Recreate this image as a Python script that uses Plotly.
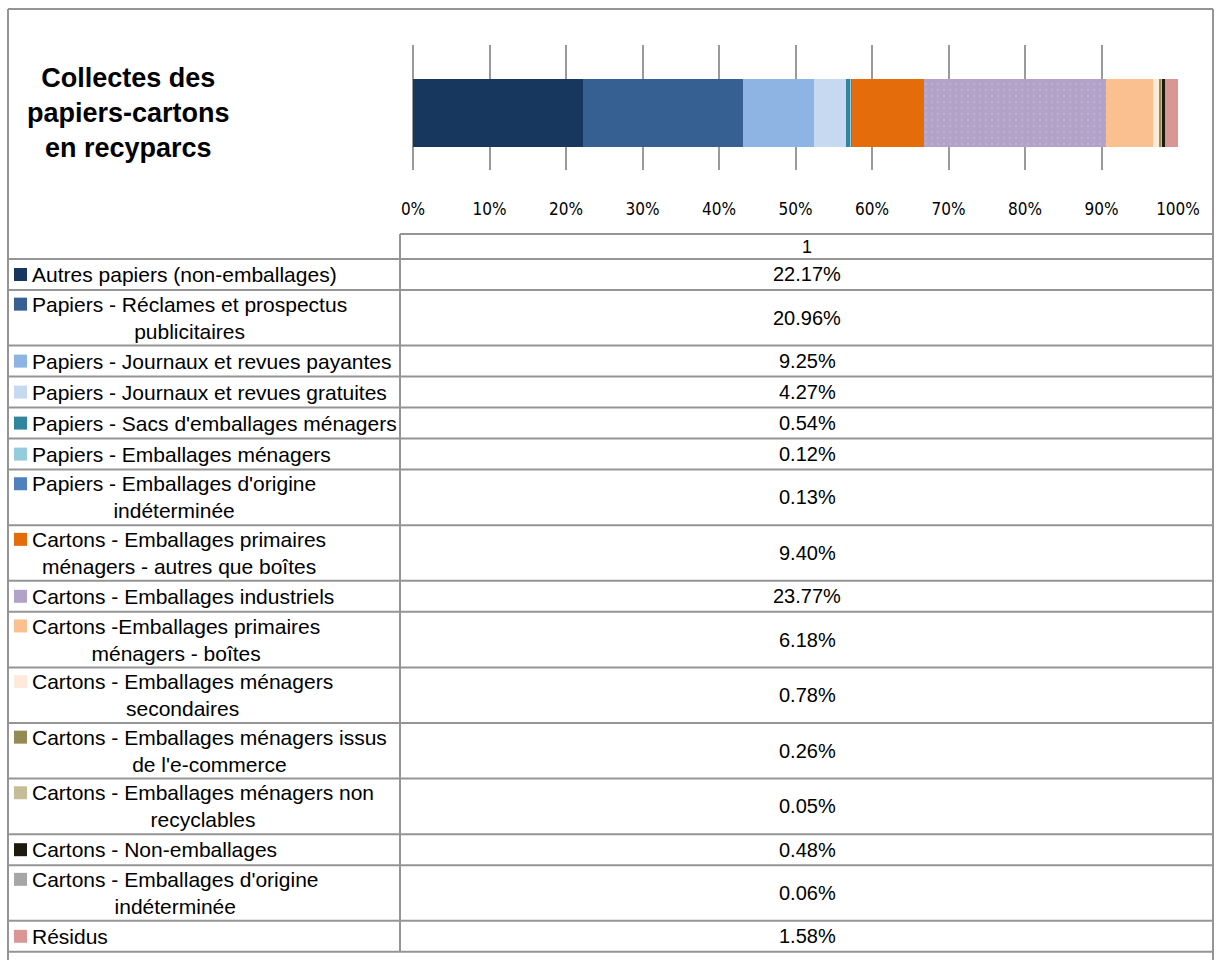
import plotly.graph_objects as go

# data
CATEGORIES = [
    "Autres papiers (non-emballages)",
    "Papiers - Réclames et prospectus<br>publicitaires",
    "Papiers - Journaux et revues payantes",
    "Papiers - Journaux et revues gratuites",
    "Papiers - Sacs d'emballages ménagers",
    "Papiers - Emballages ménagers",
    "Papiers - Emballages d'origine<br>indéterminée",
    "Cartons - Emballages primaires<br>ménagers - autres que boîtes",
    "Cartons - Emballages industriels",
    "Cartons -Emballages primaires<br>ménagers - boîtes",
    "Cartons - Emballages ménagers<br>secondaires",
    "Cartons - Emballages ménagers issus<br>de l'e-commerce",
    "Cartons - Emballages ménagers non<br>recyclables",
    "Cartons - Non-emballages",
    "Cartons - Emballages d'origine<br>indéterminée",
    "Résidus",
]
SHARES = [22.17, 20.96, 9.25, 4.27, 0.54, 0.12, 0.13, 9.40,
          23.77, 6.18, 0.78, 0.26, 0.05, 0.48, 0.06, 1.58]
COLORS = ["#17375E", "#366092", "#8EB4E3", "#C6D9F1", "#31859C", "#93CDDD",
          "#4F81BD", "#E46C0A", "#B3A2C7", "#FAC090", "#FDEADA", "#948A54",
          "#C4BD97", "#1D1B10", "#A6A6A6", "#D99694"]
SERIES_NAME = "1"
TITLE = "Collectes des<br>papiers-cartons<br>en recyparcs"

W, H = 1217, 960
GRID = "#9a9a9a"
LINE = "#959595"
FONT = "Liberation Sans, Arial, sans-serif"
NARROW = "Liberation Sans Narrow, DejaVu Sans Condensed, Liberation Sans, sans-serif"
LABEL_SIZE = 21


def xp(px):
    return px / W


def yp(py):
    return 1 - py / H


fig = go.Figure()
for name, val, col in zip(CATEGORIES, SHARES, COLORS):
    pattern = None
    if col == "#B3A2C7":
        pattern = dict(shape=".", fgcolor="#c8bcd8", size=6, solidity=0.12)
    fig.add_trace(go.Bar(
        x=[val], y=[SERIES_NAME], orientation="h", name=name.replace("<br>", " "),
        marker=dict(color=col, line=dict(width=0), pattern=pattern),
        showlegend=False,
    ))

fig.update_layout(
    width=W, height=H,
    margin=dict(l=0, r=0, t=0, b=0, autoexpand=False),
    paper_bgcolor="white", plot_bgcolor="white",
    barmode="stack", barnorm="percent", bargap=0.456,
    font=dict(family=FONT, color="black"),
    showlegend=False,
)
fig.update_xaxes(
    domain=[xp(413), xp(1178)], range=[0, 100], dtick=10, ticksuffix="%",
    showgrid=True, gridcolor=GRID, gridwidth=2,
    zeroline=True, zerolinecolor=GRID, zerolinewidth=2,
    showline=False, ticks="", ticklabelstandoff=27, automargin=False,
    tickfont=dict(family=NARROW, size=17),
)
fig.update_yaxes(
    domain=[yp(170), yp(45)], range=[-0.456, 0.544], automargin=False,
    showticklabels=False, showgrid=False, zeroline=False,
)

shapes = []
annotations = []


def hline(y, x0, x1):
    shapes.append(dict(type="line", xref="paper", yref="paper",
                       x0=xp(x0), x1=xp(x1), y0=yp(y), y1=yp(y),
                       line=dict(color=LINE, width=2)))


def vline(x, y0, y1):
    shapes.append(dict(type="line", xref="paper", yref="paper",
                       x0=xp(x), x1=xp(x), y0=yp(y0), y1=yp(y1),
                       line=dict(color=LINE, width=2)))


def label(x, y, text, size, xanchor="center", align="center"):
    annotations.append(dict(xref="paper", yref="paper", x=xp(x), y=yp(y),
                            text=text, showarrow=False, align=align,
                            xanchor=xanchor, yanchor="middle",
                            font=dict(size=size, family=FONT)))


# outer chart frame
hline(9, 8, 1213)
vline(8, 9, 965)
vline(1213, 9, 965)

# title
label(128, 113, f"<b>{TITLE}</b>", 27)

# data table header
TABLE_TOP, HEADER_BOTTOM, SPLIT = 234, 259, 400
hline(TABLE_TOP, SPLIT, 1213)
vline(SPLIT, TABLE_TOP, HEADER_BOTTOM)
label(807, 247, SERIES_NAME, 18)

# data table rows
LINE_H = 24.6
y = HEADER_BOTTOM
hline(y, 8, 1213)
for name, val, col in zip(CATEGORIES, SHARES, COLORS):
    n = name.count("<br>") + 1
    h = 31 + (n - 1) * LINE_H
    mid = y + h / 2
    first = mid - (n - 1) * LABEL_SIZE * 0.65
    shapes.append(dict(type="rect", xref="paper", yref="paper",
                       x0=xp(14), x1=xp(27), y0=yp(first - 6.5), y1=yp(first + 6.5),
                       fillcolor=col, line=dict(width=0)))
    label(30, mid, name, LABEL_SIZE, xanchor="left")
    label(807, mid, f"{val:.2f}%", 20)
    y += h
    hline(y, 8, 1213)
vline(SPLIT, HEADER_BOTTOM, y)

fig.update_layout(shapes=shapes, annotations=annotations)
fig.write_html(
    "out.html",
    config={"displayModeBar": False},
    post_script="document.body.style.margin='0';"
                "document.documentElement.style.overflow='hidden';",
)
